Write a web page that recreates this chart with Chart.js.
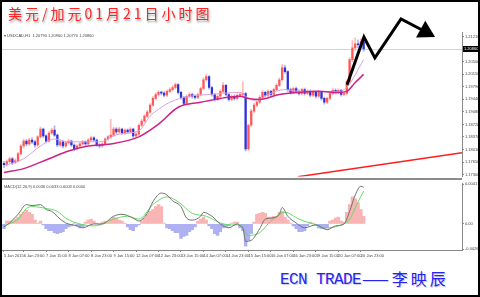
<!DOCTYPE html>
<html>
<head>
<meta charset="utf-8">
<script src="https://cdn.jsdelivr.net/npm/chart.js@4.4.1/dist/chart.umd.min.js"></script>
<style>
  html, body { margin: 0; padding: 0; background: #fff; }
  #frame { position: relative; width: 480px; height: 297px; box-sizing: border-box; border: 2px solid #000; overflow: hidden; background: #fff; }
  #frame canvas { position: absolute; left: 0; }
  #priceChart { top: 0; }
  #macdChart { top: 178px; }
  #sep { position: absolute; left: 0; top: 176px; width: 460px; height: 2px; background: #8c8c8c; }
  #title { position: absolute; left: 6px; top: 4px; font: 14px/15px "Noto Sans CJK SC", sans-serif; color: #ff2424; letter-spacing: 3px; text-shadow: 1px 2px 2px #a8a8a8; white-space: nowrap; }
  .foot { position: absolute; color: #2424ec; white-space: nowrap; text-shadow: 1px 1px 0 #d0d0f6; }
  #footEn { left: 278px; top: 270px; font: 16px/16px "Liberation Mono", monospace; letter-spacing: -0.6px; }
  #footZh { left: 360px; top: 268px; font: 16px/16px "Noto Sans CJK SC", sans-serif; letter-spacing: 3px; }
</style>
</head>
<body>
<div id="frame">
  <canvas id="priceChart" width="476" height="178"></canvas>
  <div id="sep"></div>
  <canvas id="macdChart" width="476" height="80"></canvas>
  <div id="title">美元/加元01月21日小时图</div>
  <div class="foot" id="footEn">ECN TRADE</div>
  <div class="foot" id="footZh">——李映辰</div>
</div>
<script>
// USDCAD H1, one point per two hours
const timeLabels = ['5 Jan 2015', '6 Jan 23:00', '7 Jan 15:00', '8 Jan 07:00', '8 Jan 23:00', '9 Jan 15:00',
  '12 Jan 07:00', '12 Jan 23:00', '13 Jan 15:00', '14 Jan 07:00', '14 Jan 23:00', '15 Jan 15:00',
  '16 Jan 07:00', '16 Jan 23:00', '19 Jan 15:00', '20 Jan 07:00', '20 Jan 23:00'];
const timeLabelBars = [0, 7, 15, 23, 31, 39, 47, 55, 63, 71, 79, 87, 95, 103, 111, 119, 127];

const priceTicks = [1.17300, 1.17650, 1.18010, 1.18370, 1.18720, 1.19080, 1.19440, 1.19790, 1.20150, 1.20500, 1.20860, 1.21210];
const macdTicks = [0.0041, 0, -0.0026];

const firstOpen = 1.1762;
const closes = [
  1.1758, 1.1767, 1.1775, 1.1764, 1.1769, 1.1789, 1.1811, 1.1825, 1.1817, 1.1828,
  1.1823, 1.1814, 1.1837, 1.1859, 1.1840, 1.1825, 1.1848, 1.1856, 1.1842, 1.1814,
  1.1823, 1.1811, 1.1820, 1.1825, 1.1814, 1.1803, 1.1811, 1.1817, 1.1823, 1.1817,
  1.1828, 1.1834, 1.1828, 1.1814, 1.1811, 1.1817, 1.1831, 1.1837, 1.1842, 1.1859,
  1.1851, 1.1859, 1.1848, 1.1856, 1.1851, 1.1859, 1.1840, 1.1845, 1.1870, 1.1882,
  1.1896, 1.1907, 1.1927, 1.1946, 1.1957, 1.1963, 1.1961, 1.1955, 1.1966, 1.1971,
  1.1977, 1.1985, 1.1963, 1.1949, 1.1932, 1.1952, 1.1957, 1.1952, 1.1949, 1.1957,
  1.1974, 1.1999, 1.2008, 1.1977, 1.1957, 1.1943, 1.1952, 1.1966, 1.1983, 1.1957,
  1.1943, 1.1952, 1.1946, 1.1955, 1.1957, 1.1960, 1.1803, 1.1870, 1.1910, 1.1927,
  1.1935, 1.1949, 1.1963, 1.1955, 1.1966, 1.1957, 1.1971, 1.1983, 1.1999, 1.2033,
  1.2022, 1.1971, 1.1963, 1.1974, 1.1966, 1.1960, 1.1971, 1.1960, 1.1966, 1.1955,
  1.1963, 1.1952, 1.1963, 1.1946, 1.1935, 1.1946, 1.1960, 1.1969, 1.1963, 1.1969,
  1.1957, 1.1960, 1.1994, 1.2056, 1.2089, 1.2101, 1.2098, 1.2106, 1.2086];
const highs = [
  1.1768, 1.1772, 1.1780, 1.1779, 1.1775, 1.1793, 1.1815, 1.1831, 1.1829, 1.1833,
  1.1834, 1.1827, 1.1841, 1.1865, 1.1862, 1.1843, 1.1852, 1.1862, 1.1868, 1.1845,
  1.1828, 1.1826, 1.1824, 1.1830, 1.1828, 1.1817, 1.1815, 1.1821, 1.1827, 1.1826,
  1.1832, 1.1839, 1.1838, 1.1831, 1.1818, 1.1821, 1.1835, 1.1841, 1.1887, 1.1864,
  1.1863, 1.1864, 1.1862, 1.1860, 1.1860, 1.1863, 1.1862, 1.1850, 1.1874, 1.1887,
  1.1900, 1.1912, 1.1932, 1.1951, 1.1962, 1.1968, 1.1967, 1.1965, 1.1970, 1.1976,
  1.1982, 1.1990, 1.1988, 1.1966, 1.1952, 1.1956, 1.1962, 1.1961, 1.1956, 1.1961,
  1.1978, 1.2004, 1.2014, 1.2011, 1.1980, 1.1960, 1.1956, 1.1970, 1.1991, 1.1986,
  1.1960, 1.1956, 1.1956, 1.1959, 1.1962, 1.1994, 1.1963, 1.1874, 1.1915, 1.1932,
  1.1940, 1.1954, 1.1968, 1.1967, 1.1970, 1.1969, 1.1975, 1.1988, 1.2004, 1.2042,
  1.2040, 1.2025, 1.1975, 1.1978, 1.1978, 1.1970, 1.1975, 1.1975, 1.1970, 1.1970,
  1.1967, 1.1967, 1.1967, 1.1966, 1.1950, 1.1950, 1.1964, 1.1974, 1.1973, 1.1973,
  1.1972, 1.1964, 1.1998, 1.2062, 1.2110, 1.2118, 1.2112, 1.2115, 1.2110];
const lows = [
  1.1750, 1.1754, 1.1763, 1.1758, 1.1760, 1.1766, 1.1786, 1.1806, 1.1812, 1.1813,
  1.1818, 1.1808, 1.1811, 1.1834, 1.1835, 1.1820, 1.1822, 1.1844, 1.1838, 1.1809,
  1.1810, 1.1806, 1.1807, 1.1816, 1.1810, 1.1797, 1.1799, 1.1807, 1.1813, 1.1812,
  1.1814, 1.1824, 1.1824, 1.1810, 1.1806, 1.1807, 1.1814, 1.1827, 1.1833, 1.1838,
  1.1846, 1.1847, 1.1844, 1.1844, 1.1846, 1.1847, 1.1835, 1.1836, 1.1842, 1.1866,
  1.1878, 1.1892, 1.1903, 1.1923, 1.1942, 1.1952, 1.1956, 1.1950, 1.1951, 1.1962,
  1.1967, 1.1973, 1.1959, 1.1944, 1.1927, 1.1929, 1.1948, 1.1947, 1.1944, 1.1945,
  1.1953, 1.1970, 1.1995, 1.1972, 1.1952, 1.1938, 1.1939, 1.1948, 1.1962, 1.1953,
  1.1938, 1.1939, 1.1941, 1.1942, 1.1950, 1.1950, 1.1797, 1.1798, 1.1866, 1.1905,
  1.1922, 1.1931, 1.1945, 1.1950, 1.1951, 1.1952, 1.1953, 1.1967, 1.1979, 1.1995,
  1.2017, 1.1966, 1.1958, 1.1959, 1.1961, 1.1955, 1.1956, 1.1955, 1.1956, 1.1950,
  1.1951, 1.1947, 1.1948, 1.1941, 1.1930, 1.1931, 1.1942, 1.1956, 1.1958, 1.1959,
  1.1952, 1.1953, 1.1956, 1.1990, 1.2050, 1.2082, 1.2090, 1.2094, 1.2080];

// moving averages, read at a few bars
const slowMaBars = [0, 7, 16, 23, 30, 38, 48, 55, 62, 70, 77, 84, 87, 91, 98, 105, 112, 119, 122, 125, 128];
const slowMa = [1.1736, 1.1747, 1.1775, 1.1797, 1.1811, 1.1817, 1.1837, 1.1873, 1.1921, 1.1935, 1.1946,
  1.1952, 1.1946, 1.1943, 1.1957, 1.1963, 1.1966, 1.1963, 1.1966, 1.1991, 1.2014];
const fastMaBars = [0, 7, 13, 18, 23, 34, 41, 48, 52, 55, 59, 66, 73, 84, 86, 90, 94, 100, 105, 112, 119, 122, 128];
const fastMa = [1.1755, 1.1775, 1.1811, 1.1831, 1.1823, 1.1823, 1.1845, 1.1854, 1.1896, 1.1915, 1.1935, 1.1952,
  1.1957, 1.1963, 1.1952, 1.1938, 1.1957, 1.1971, 1.1966, 1.1966, 1.1966, 1.1977, 1.2056];

// drawn objects: trend line and the hand-drawn zigzag arrow
const trendBars = [104.6, 163];
const trendPrices = [1.1724, 1.1792];
const zigzagBars = [122.1, 128.1, 132.0, 141.3, 150.0];
const zigzagPrices = [1.1985, 1.2120, 1.2061, 1.2171, 1.2135];

// MACD(12,26,9)
const macdBars = [0, 2, 5, 8, 10, 13, 15, 17, 20, 22, 26, 28, 32, 35, 39, 42, 46, 48, 51, 53, 56, 58, 60, 63, 65, 67,
  70, 71, 74, 77, 80, 83, 84, 85, 86, 88, 91, 93, 95, 98, 99, 101, 104, 107, 111, 115, 118, 121, 123, 125, 127, 128];
const macdLine = [-0.0003, 0.0001, 0.0010, 0.0020, 0.0019, 0.0020, 0.0015, 0.0013, 0.0005, 0.0001, -0.0002, -0.0004,
  0.0000, 0.0000, 0.0008, 0.0010, 0.0006, 0.0003, 0.0011, 0.0023, 0.0032, 0.0030, 0.0024, 0.0018, 0.0006, 0.0004,
  0.0008, 0.0012, 0.0008, 0.0000, -0.0004, 0.0000, -0.0002, -0.0004, -0.0018, -0.0017, -0.0005, 0.0005, 0.0006, 0.0010,
  0.0017, 0.0008, 0.0001, -0.0004, -0.0001, -0.0006, -0.0002, 0.0000, 0.0013, 0.0030, 0.0039, 0.0038];
const signalBars = [0, 5, 8, 10, 15, 19, 22, 27, 32, 39, 44, 48, 53, 58, 62, 67, 72, 77, 81, 84, 87, 91, 95, 100, 105,
  110, 115, 119, 123, 126, 128];
const signalLine = [-0.0002, 0.0005, 0.0016, 0.0018, 0.0016, 0.0013, 0.0006, 0.0000, -0.0002, 0.0005, 0.0008, 0.0005,
  0.0020, 0.0028, 0.0023, 0.0011, 0.0008, 0.0001, -0.0001, -0.0001, -0.0012, -0.0009, 0.0003, 0.0012, 0.0005, 0.0000,
  -0.0004, -0.0002, 0.0005, 0.0023, 0.0034];
const histogram = [
  -0.0005, 0.0003, 0.0003, 0.0003, 0.0005, 0.0007, 0.0010, 0.0012, 0.0014, 0.0012,
  0.0010, 0.0004, 0.0001, 0.0003, -0.0001, -0.0005, -0.0007, -0.0007, -0.0009, -0.0010,
  -0.0009, -0.0008, -0.0005, -0.0003, -0.0002, 0.0001, -0.0002, -0.0004, -0.0003, 0.0002,
  0.0004, 0.0005, 0.0003, 0.0001, -0.0001, 0.0002, 0.0003, 0.0002, 0.0005, 0.0007,
  0.0006, 0.0004, 0.0003, 0.0001, -0.0003, -0.0006, -0.0007, -0.0003, -0.0001, 0.0003,
  0.0006, 0.0010, 0.0013, 0.0015, 0.0018, 0.0020, 0.0018, 0.0001, -0.0004, -0.0005,
  -0.0007, -0.0009, -0.0009, -0.0015, -0.0013, -0.0012, -0.0008, -0.0006, -0.0003, 0.0003,
  0.0005, 0.0007, 0.0004, -0.0002, -0.0005, -0.0010, -0.0012, -0.0008, -0.0004, -0.0003,
  -0.0002, 0.0001, 0.0002, 0.0002, -0.0004, -0.0007, -0.0023, -0.0017, -0.0010, 0.0002,
  0.0010, 0.0011, 0.0012, 0.0011, 0.0007, 0.0007, 0.0008, 0.0008, 0.0012, 0.0013,
  0.0007, 0.0004, 0.0001, -0.0002, -0.0005, -0.0008, -0.0008, -0.0007, -0.0002, 0.0002,
  0.0001, -0.0001, -0.0004, -0.0005, -0.0005, -0.0004, 0.0003, 0.0004, 0.0006, 0.0007,
  0.0003, 0.0002, 0.0012, 0.0020, 0.0028, 0.0026, 0.0022, 0.0015, 0.0008];

const priceHeader = 'USDCAD,H1  1.20790 1.20960 1.20770 1.20860';
const macdHeader = 'MACD(12,26,9) 0.0036 0.0033 0.0003 0.0000';

const xMin = -0.7, xMax = 163;
const tinyFont = { family: 'Liberation Sans', size: 4 };
const opens = closes.map((c, i) => (i === 0 ? firstOpen : closes[i - 1]));
const isUp = i => closes[i] >= opens[i];
const lastPrice = closes[closes.length - 1];
const points = (bars, vals) => bars.map((b, k) => ({ x: b, y: vals[k] }));

Chart.defaults.font.family = 'Liberation Sans';

const priceExtras = {
  id: 'priceExtras',
  beforeDatasetsDraw(chart) {
    const { ctx, chartArea: a, scales: { y } } = chart;
    const py = Math.round(y.getPixelForValue(lastPrice)) + 0.5;
    ctx.save();
    ctx.strokeStyle = '#f5c3cd';
    ctx.lineWidth = 1;
    ctx.beginPath();
    ctx.moveTo(a.left, py);
    ctx.lineTo(a.right, py);
    ctx.stroke();
    ctx.restore();
  },
  afterDraw(chart) {
    const { ctx, chartArea: a, scales: { y } } = chart;
    const py = y.getPixelForValue(lastPrice);
    ctx.save();
    ctx.fillStyle = '#000';
    ctx.fillRect(a.right + 1, py - 3, 15, 6);
    ctx.fillStyle = '#fff';
    ctx.font = '4px "Liberation Sans"';
    ctx.textBaseline = 'middle';
    ctx.fillText(lastPrice.toFixed(5), a.right + 2, py);
    ctx.fillStyle = '#444';
    ctx.textBaseline = 'top';
    ctx.fillText('\u25BE ' + priceHeader, a.left + 2, a.top + 2);
    ctx.restore();
  }
};

const macdExtras = {
  id: 'macdExtras',
  afterDraw(chart) {
    const { ctx, chartArea: a } = chart;
    ctx.save();
    ctx.fillStyle = '#444';
    ctx.font = '4px "Liberation Sans"';
    ctx.textBaseline = 'top';
    ctx.fillText(macdHeader, a.left + 2, a.top + 1);
    ctx.restore();
  }
};

new Chart(document.getElementById('priceChart'), {
  type: 'bar',
  data: {
    datasets: [
      {
        type: 'line', order: 0, clip: false,
        data: points(zigzagBars, zigzagPrices),
        borderColor: '#000', borderWidth: 3, borderJoinStyle: 'miter', tension: 0,
        pointStyle: 'triangle', pointRotation: 119,
        pointRadius: c => (c.dataIndex === zigzagBars.length - 1 ? 11 : 0),
        pointBackgroundColor: '#000', pointBorderWidth: 0
      },
      {
        type: 'line', order: 1,
        data: points(trendBars, trendPrices),
        borderColor: '#ff1e1e', borderWidth: 1.5, pointRadius: 0, tension: 0
      },
      {
        type: 'line', order: 2,
        data: points(slowMaBars, slowMa),
        borderColor: '#cc2288', borderWidth: 1.5, pointRadius: 0, cubicInterpolationMode: 'monotone'
      },
      {
        type: 'line', order: 3,
        data: points(fastMaBars, fastMa),
        borderColor: '#d9a0e6', borderWidth: 1, pointRadius: 0, cubicInterpolationMode: 'monotone'
      },
      {
        label: 'body', order: 4, grouped: false,
        data: closes.map((c, i) => ({ x: i, y: [opens[i], c] })),
        backgroundColor: c => (isUp(c.dataIndex) ? '#ff5656' : '#3030d8'),
        barThickness: 1.6, minBarLength: 1, borderWidth: 0
      },
      {
        label: 'wick', order: 5, grouped: false,
        data: closes.map((c, i) => ({ x: i, y: [lows[i], highs[i]] })),
        backgroundColor: c => (isUp(c.dataIndex) ? '#ffb8b8' : '#aab2f2'),
        barThickness: 1, borderWidth: 0
      }
    ]
  },
  options: {
    responsive: false,
    animation: false,
    events: [],
    layout: { autoPadding: false, padding: { top: 30, bottom: 2, left: 0, right: 0 } },
    plugins: { legend: { display: false }, tooltip: { enabled: false } },
    scales: {
      x: { type: 'linear', display: false, min: xMin, max: xMax, offset: false, grid: { offset: false } },
      y: {
        position: 'right', min: 1.17244, max: 1.21342,
        afterFit: s => { s.width = 16; },
        afterBuildTicks: s => { s.ticks = priceTicks.map(v => ({ value: v })); },
        ticks: { font: tinyFont, color: '#444', padding: 1, autoSkip: false, callback: v => v.toFixed(5) },
        grid: { drawOnChartArea: false, tickLength: 2, color: '#888' },
        border: { color: '#888' }
      }
    }
  },
  plugins: [priceExtras]
});

new Chart(document.getElementById('macdChart'), {
  type: 'bar',
  data: {
    datasets: [
      {
        type: 'line', order: 0,
        data: points(macdBars, macdLine),
        borderColor: '#707070', borderWidth: 1, pointRadius: 0, cubicInterpolationMode: 'monotone'
      },
      {
        type: 'line', order: 1,
        data: points(signalBars, signalLine),
        borderColor: '#62dd62', borderWidth: 1, pointRadius: 0, cubicInterpolationMode: 'monotone'
      },
      {
        order: 2,
        data: histogram.map((v, i) => ({ x: i, y: v })),
        backgroundColor: c => (histogram[c.dataIndex] >= 0 ? '#f9b4b4' : '#aeb0f2'),
        barPercentage: 1, categoryPercentage: 1, borderWidth: 0
      }
    ]
  },
  options: {
    responsive: false,
    animation: false,
    events: [],
    layout: { autoPadding: false, padding: { top: 1, bottom: 0, left: 0, right: 0 } },
    plugins: { legend: { display: false }, tooltip: { enabled: false } },
    scales: {
      x: {
        type: 'linear', min: xMin, max: xMax, offset: false,
        afterFit: s => { s.height = 10; },
        afterBuildTicks: s => { s.ticks = timeLabelBars.map(v => ({ value: v })); },
        ticks: {
          font: tinyFont, color: '#444', padding: 1, align: 'start', maxRotation: 0, autoSkip: false,
          callback: v => timeLabels[timeLabelBars.indexOf(v)]
        },
        grid: { drawOnChartArea: false, tickLength: 2, color: '#888', offset: false },
        border: { color: '#888' }
      },
      y: {
        position: 'right', min: -0.0027, max: 0.0042,
        afterFit: s => { s.width = 16; },
        afterBuildTicks: s => { s.ticks = macdTicks.map(v => ({ value: v })); },
        ticks: { font: tinyFont, color: '#444', padding: 1, autoSkip: false, callback: v => (v === 0 ? '0.00' : v.toFixed(4)) },
        grid: { drawOnChartArea: false, tickLength: 2, color: '#888' },
        border: { color: '#888' }
      }
    }
  },
  plugins: [macdExtras]
});
</script>
</body>
</html>
